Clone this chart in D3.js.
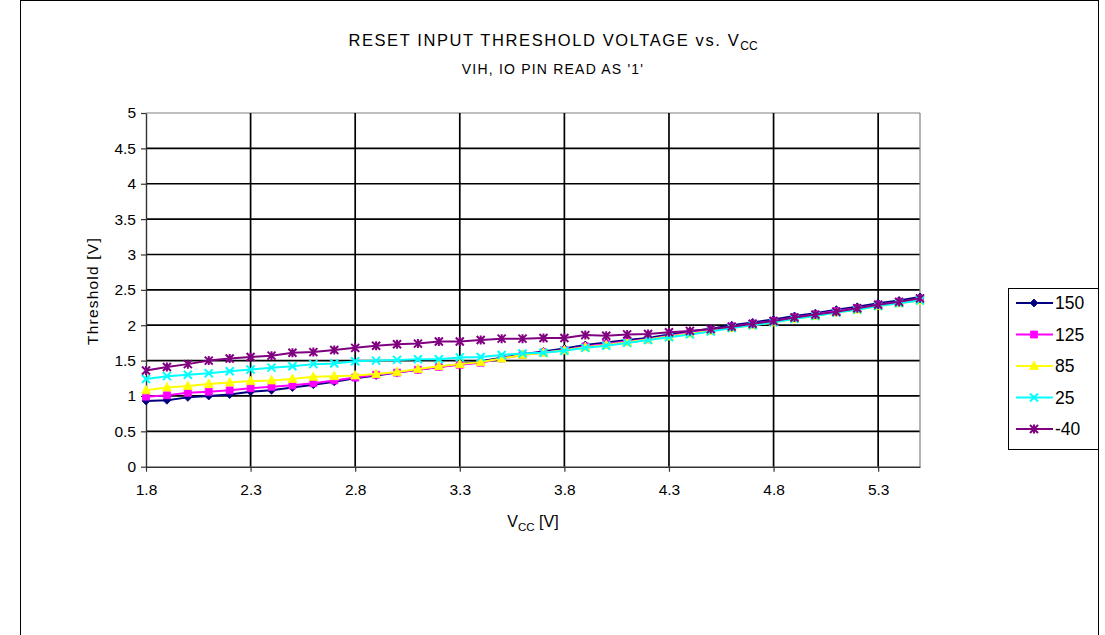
<!DOCTYPE html>
<html><head><meta charset="utf-8">
<script src="https://d3js.org/d3.v7.min.js"></script>
<style>body{margin:0;background:#fff;} text{font-family:"Liberation Sans",Arial,sans-serif;}</style>
</head><body><svg id="c" width="1105" height="635"></svg>
<script>
const vcc = [1.8,1.9,2.0,2.1,2.2,2.3,2.4,2.5,2.6,2.7,2.8,2.9,3.0,3.1,3.2,3.3,3.4,3.5,3.6,3.7,3.8,3.9,4.0,4.1,4.2,4.3,4.4,4.5,4.6,4.7,4.8,4.9,5.0,5.1,5.2,5.3,5.4,5.5];
const s150 = [0.93,0.94,0.98,1.00,1.02,1.06,1.08,1.12,1.16,1.20,1.25,1.29,1.33,1.37,1.41,1.45,1.49,1.54,1.59,1.63,1.67,1.72,1.755,1.79,1.82,1.87,1.91,1.95,2.00,2.04,2.08,2.13,2.17,2.22,2.26,2.31,2.35,2.40];
const s125 = [0.99,1.01,1.045,1.06,1.08,1.11,1.13,1.15,1.18,1.22,1.26,1.30,1.33,1.37,1.41,1.44,1.47,1.53,1.58,1.615,1.65,1.70,1.735,1.77,1.80,1.85,1.89,1.93,1.98,2.02,2.06,2.11,2.15,2.20,2.24,2.29,2.33,2.37];
const s85 = [1.08,1.12,1.14,1.17,1.19,1.21,1.22,1.24,1.27,1.28,1.29,1.31,1.34,1.38,1.42,1.45,1.48,1.53,1.58,1.61,1.645,1.69,1.72,1.76,1.80,1.84,1.88,1.92,1.96,2.00,2.04,2.09,2.13,2.18,2.22,2.27,2.31,2.35];
const s25 = [1.24,1.28,1.30,1.32,1.35,1.375,1.40,1.42,1.45,1.46,1.49,1.50,1.51,1.52,1.52,1.545,1.55,1.58,1.60,1.61,1.64,1.68,1.71,1.75,1.79,1.83,1.87,1.91,1.96,2.00,2.04,2.09,2.13,2.18,2.22,2.27,2.31,2.35];
const sm40 = [1.36,1.41,1.45,1.50,1.53,1.55,1.57,1.61,1.62,1.65,1.68,1.71,1.73,1.74,1.77,1.77,1.79,1.81,1.81,1.82,1.82,1.86,1.85,1.87,1.875,1.90,1.92,1.945,1.98,2.02,2.06,2.11,2.15,2.19,2.24,2.29,2.33,2.38];
const seriesNames = ["150","125","85","25","-40"];
const xTicks = [1.8,2.3,2.8,3.3,3.8,4.3,4.8,5.3];
const yTicks = [0,0.5,1,1.5,2,2.5,3,3.5,4,4.5,5];

const series = [
  {name:seriesNames[0], vals:s150, color:"#000080", marker:"diamond"},
  {name:seriesNames[1], vals:s125, color:"#FF00FF", marker:"square"},
  {name:seriesNames[2], vals:s85, color:"#FFFF00", marker:"triangle"},
  {name:seriesNames[3], vals:s25, color:"#00FFFF", marker:"x"},
  {name:seriesNames[4], vals:sm40, color:"#800080", marker:"star"}
];

const svg = d3.select("#c");
svg.append("rect").attr("x",20.5).attr("y",0.5).attr("width",1078).attr("height",660)
  .attr("fill","none").attr("stroke","#000").attr("stroke-width",1);

const L=146, R=920, T=113, B=466.7;
const x = d3.scaleLinear().domain([1.8,5.5]).range([L,R]);
const y = d3.scaleLinear().domain([0,5]).range([B,T]);

const g = svg.append("g");
g.selectAll("line.hg").data(yTicks.slice(1)).join("line")
  .attr("x1",L).attr("x2",R).attr("y1",d=>y(d)).attr("y2",d=>y(d))
  .attr("stroke",d=>d===5?"#808080":"#000").attr("stroke-width",d=>d===5?1.2:1.7);
g.selectAll("line.vg").data(xTicks.slice(1)).join("line")
  .attr("x1",d=>x(d)).attr("x2",d=>x(d)).attr("y1",T).attr("y2",B)
  .attr("stroke","#000").attr("stroke-width",1.7);
g.append("line").attr("x1",R).attr("x2",R).attr("y1",T).attr("y2",B).attr("stroke","#808080").attr("stroke-width",1.2);

const xAxis = d3.axisBottom(x).tickValues(xTicks).tickFormat(d3.format(".1f")).tickSizeInner(5).tickSizeOuter(0).tickPadding(12);
const yAxis = d3.axisLeft(y).tickValues(yTicks).tickFormat(d=>String(d)).tickSizeInner(5).tickSizeOuter(0).tickPadding(5);
const gx = svg.append("g").attr("transform",`translate(0,${B})`).call(xAxis);
const gy = svg.append("g").attr("transform",`translate(${L},0)`).call(yAxis);
[gx,gy].forEach(a=>{
  a.selectAll("path.domain").attr("stroke","#333").attr("stroke-width",1.4);
  a.selectAll(".tick line").attr("stroke","#333").attr("stroke-width",1.2);
  a.selectAll(".tick text").attr("fill","#000").style("font-size","15.5px").style("font-family","Liberation Sans, Arial, sans-serif");
});
gx.selectAll(".tick text").attr("dy","0.71em");

function markerPath(type){
  const p = d3.path();
  if(type==="diamond"){p.moveTo(0,-4);p.lineTo(4,0);p.lineTo(0,4);p.lineTo(-4,0);p.closePath();}
  else if(type==="square"){p.rect(-3.5,-3.5,7,7);}
  else if(type==="triangle"){p.moveTo(0,-5);p.lineTo(4.5,3.5);p.lineTo(-4.5,3.5);p.closePath();}
  else if(type==="x"){p.moveTo(-4,-4);p.lineTo(4,4);p.moveTo(4,-4);p.lineTo(-4,4);}
  else if(type==="star"){p.moveTo(-4,-4);p.lineTo(4,4);p.moveTo(4,-4);p.lineTo(-4,4);p.moveTo(0,-4.5);p.lineTo(0,4.5);}
  return p.toString();
}
const line = d3.line().x((d,i)=>x(vcc[i])).y(d=>y(d));
const sg = svg.append("g");
series.forEach(s=>{
  sg.append("path").attr("d",line(s.vals)).attr("fill","none").attr("stroke",s.color).attr("stroke-width",2);
  const stroked = (s.marker==="x"||s.marker==="star");
  sg.selectAll(null).data(s.vals).join("path")
    .attr("transform",(d,i)=>`translate(${x(vcc[i])},${y(d)})`)
    .attr("d",markerPath(s.marker))
    .attr("fill",stroked?"none":s.color)
    .attr("stroke",s.color).attr("stroke-width",stroked?2:0.8);
});

const t = svg.append("text").attr("x",553).attr("y",46).attr("text-anchor","middle").style("font-size","16.5px").style("letter-spacing","1.6px").attr("fill","#000");
t.append("tspan").text("RESET INPUT THRESHOLD VOLTAGE vs. V");
t.append("tspan").text("CC").attr("dy",4).style("font-size","12px").style("letter-spacing","0px");
svg.append("text").attr("x",553).attr("y",74).attr("text-anchor","middle").style("font-size","14px").style("letter-spacing","1.2px").text("VIH, IO PIN READ AS '1'");

const xt = svg.append("text").attr("x",533).attr("y",527).attr("text-anchor","middle").style("font-size","16px");
xt.append("tspan").text("V");
xt.append("tspan").text("CC").attr("dy",4).style("font-size","11.5px");
xt.append("tspan").text(" [V]").attr("dy",-4);
svg.append("text").attr("transform","translate(98,291) rotate(-90)").attr("text-anchor","middle").style("font-size","15.5px").style("letter-spacing","1.2px").text("Threshold [V]");

const lg = svg.append("g");
lg.append("rect").attr("x",1008.5).attr("y",288.5).attr("width",90).attr("height",161).attr("fill","#fff").attr("stroke","#000").attr("stroke-width",1);
series.forEach((s,i)=>{
  const yy = 303 + i*31.5;
  lg.append("line").attr("x1",1016).attr("x2",1053).attr("y1",yy).attr("y2",yy).attr("stroke",s.color).attr("stroke-width",2);
  const stroked = (s.marker==="x"||s.marker==="star");
  lg.append("path").attr("transform",`translate(1034,${yy})`).attr("d",markerPath(s.marker))
    .attr("fill",stroked?"none":s.color).attr("stroke",s.color).attr("stroke-width",stroked?2:0.8);
  lg.append("text").attr("x",1055).attr("y",yy+6).style("font-size","17.5px").text(s.name);
});
</script></body></html>
